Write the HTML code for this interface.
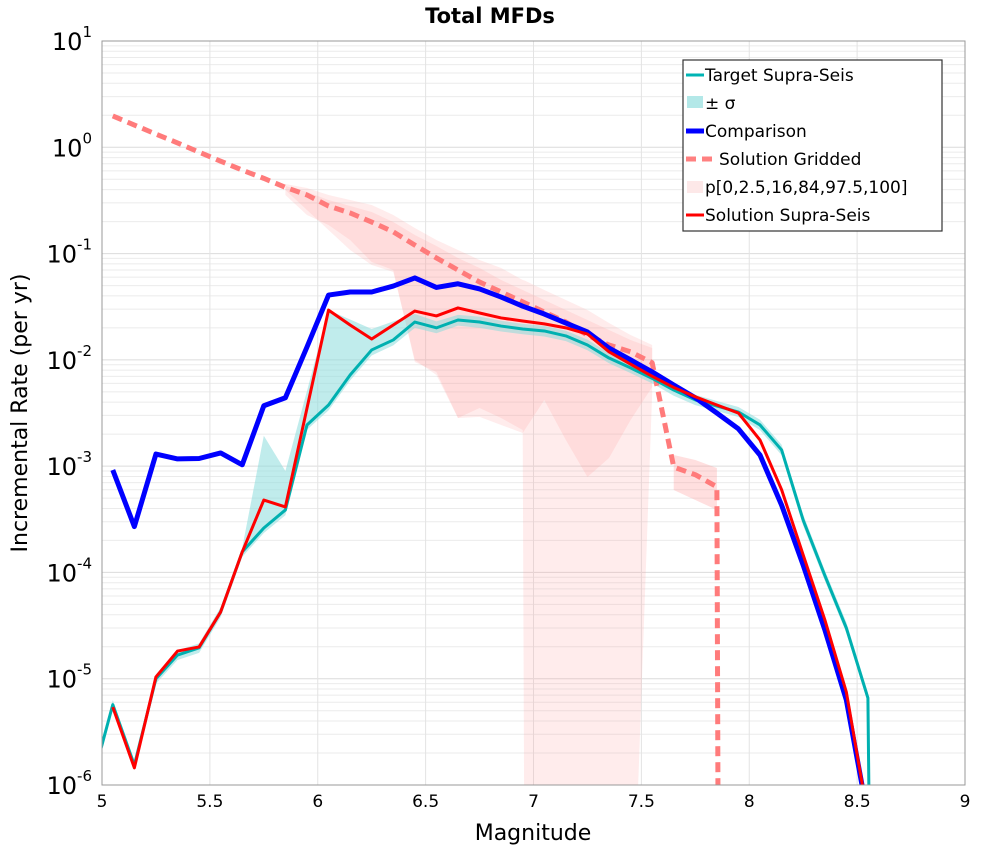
<!DOCTYPE html>
<html><head><meta charset="utf-8"><style>
html,body{margin:0;padding:0;background:#fff;overflow:hidden;}
svg{display:block;font-family:"DejaVu Sans","Liberation Sans",sans-serif;}
</style></head><body>
<svg id="chart" width="1000" height="850" xmlns="http://www.w3.org/2000/svg">
<defs><clipPath id="clip"><rect x="102" y="41" width="863" height="744"/></clipPath></defs>
<rect x="0" y="0" width="1000" height="850" fill="#fff"/>
<text x="490" y="23" text-anchor="middle" font-size="21" font-weight="bold">Total MFDs</text>
<g id="grid"></g>
<g id="plot" clip-path="url(#clip)"></g>
<rect x="102" y="41" width="863" height="744" fill="none" stroke="#999" stroke-width="1"/>
<g id="axes"></g>
<text x="533" y="840" text-anchor="middle" font-size="22">Magnitude</text>
<text transform="translate(27,413) rotate(-90)" text-anchor="middle" font-size="22">Incremental Rate (per yr)</text>
<g id="legend">
<rect x="683" y="60" width="259" height="171" fill="#fff" stroke="#333" stroke-width="1.2"/>
<g><line x1="686" y1="75" x2="704" y2="75" stroke="#00b4b4" stroke-width="3"/><text x="705" y="81" font-size="17">Target Supra-Seis</text></g>
<g><rect x="687" y="96" width="16" height="12" fill="#b3e8e8"/><text x="705" y="109" font-size="17">± σ</text></g>
<g><line x1="686" y1="131" x2="704" y2="131" stroke="#0000ff" stroke-width="5"/><text x="705" y="137" font-size="17">Comparison</text></g>
<g><line x1="686" y1="159" x2="718" y2="159" stroke="#ff8080" stroke-width="5" stroke-dasharray="10,6"/><text x="719" y="165" font-size="17">Solution Gridded</text></g>
<g><rect x="687" y="181" width="16" height="12" fill="#fde8e8"/><text x="705" y="193" font-size="17">p[0,2.5,16,84,97.5,100]</text></g>
<g><line x1="686" y1="215" x2="704" y2="215" stroke="#ff0000" stroke-width="3"/><text x="705" y="221" font-size="17">Solution Supra-Seis</text></g>
</g>
</svg>
<script>
// ---- data ----
const mags = [5.05,5.15,5.25,5.35,5.45,5.55,5.65,5.75,5.85,5.95,6.05,6.15,6.25,6.35,6.45,6.55,6.65,6.75,6.85,6.95,7.05,7.15,7.25,7.35,7.45,7.55,7.65,7.75,7.85,7.95,8.05,8.15,8.25,8.35,8.45,8.55];
const targetMags = [4.95].concat(mags);
const targetRates = [1e-6,5.7e-6,1.54e-6,1.0e-5,1.67e-5,1.95e-5,4.25e-5,1.56e-4,2.62e-4,3.87e-4,2.44e-3,3.76e-3,7.2e-3,1.24e-2,1.54e-2,2.27e-2,2.0e-2,2.37e-2,2.27e-2,2.08e-2,1.95e-2,1.87e-2,1.68e-2,1.38e-2,1.04e-2,8.4e-3,6.7e-3,5.2e-3,4.2e-3,3.68e-3,3.23e-3,2.44e-3,1.42e-3,3.1e-4,9.4e-5,3.0e-5,6.6e-6];
const sigmaHi = [1.1e-6,6.3e-6,1.7e-6,1.1e-5,1.85e-5,2.15e-5,4.7e-5,1.7e-4,1.93e-3,9e-4,5.1e-3,2.94e-2,2.4e-2,1.95e-2,2.3e-2,2.7e-2,2.3e-2,2.65e-2,2.55e-2,2.33e-2,2.18e-2,2.09e-2,1.88e-2,1.55e-2,1.16e-2,9.4e-3,7.5e-3,5.8e-3,4.7e-3,4.1e-3,3.6e-3,2.73e-3,1.59e-3,3.5e-4,1.05e-4,3.4e-5,7.4e-6];
const sigmaLo = [9e-7,5.1e-6,1.38e-6,9e-6,1.5e-5,1.75e-5,3.8e-5,1.4e-4,2.35e-4,3.45e-4,2.2e-3,3.35e-3,6.4e-3,1.1e-2,1.37e-2,2.0e-2,1.78e-2,2.1e-2,2.0e-2,1.85e-2,1.74e-2,1.66e-2,1.5e-2,1.23e-2,9.3e-3,7.5e-3,6.0e-3,4.6e-3,3.75e-3,3.3e-3,2.9e-3,2.18e-3,1.27e-3,2.75e-4,8.4e-5,2.7e-5,5.9e-6];
const comparisonRates = [9.2e-4,2.7e-4,1.3e-3,1.17e-3,1.18e-3,1.33e-3,1.03e-3,3.7e-3,4.4e-3,1.32e-2,4.07e-2,4.35e-2,4.35e-2,4.95e-2,5.9e-2,4.8e-2,5.2e-2,4.65e-2,3.9e-2,3.2e-2,2.7e-2,2.22e-2,1.83e-2,1.29e-2,1.0e-2,7.7e-3,5.8e-3,4.4e-3,3.16e-3,2.24e-3,1.27e-3,4.3e-4,1.17e-4,2.9e-5,6.3e-6,5e-7];
const solutionRates = [5.4e-6,1.45e-6,1.04e-5,1.82e-5,1.99e-5,4.25e-5,1.56e-4,4.8e-4,4.13e-4,3.5e-3,2.94e-2,2.13e-2,1.57e-2,2.13e-2,2.88e-2,2.59e-2,3.08e-2,2.76e-2,2.48e-2,2.32e-2,2.18e-2,2.0e-2,1.75e-2,1.19e-2,9.1e-3,7.0e-3,5.5e-3,4.5e-3,3.76e-3,3.16e-3,1.76e-3,6.0e-4,1.46e-4,3.6e-5,7.5e-6,5e-7];
const griddedMags = [5.05,5.15,5.25,5.35,5.45,5.55,5.65,5.75,5.85,5.95,6.05,6.15,6.25,6.35,6.45,6.55,6.65,6.75,6.85,6.95,7.05,7.15,7.25,7.35,7.45,7.55,7.65,7.75,7.85,7.86];
const griddedRates = [1.97,1.62,1.33,1.10,0.90,0.74,0.61,0.51,0.42,0.356,0.28,0.241,0.198,0.160,0.120,0.091,0.070,0.054,0.0435,0.0351,0.0282,0.0227,0.0171,0.0138,0.0119,0.0094,9.8e-4,8.3e-4,6.4e-4,1e-9];
// percentile bands (log10 of rate)
const outerMags = [5.85,5.95,6.05,6.15,6.25,6.35,6.45,6.55,6.65,6.75,6.85,6.95,6.96,7.05,7.15,7.25,7.35,7.45,7.55];
const outerHiLog = [-0.345,-0.383,-0.449,-0.496,-0.543,-0.637,-0.759,-0.872,-0.966,-1.060,-1.136,-1.249,-1.255,-1.343,-1.437,-1.531,-1.653,-1.766,-1.860];
const outerLoLog = [-0.402,-0.590,-0.778,-0.966,-1.107,-1.173,-2.001,-2.142,-2.547,-2.453,-2.547,-2.660,-8,-8,-8,-8,-8,-8,-2.312];
const pctMags = [5.85,5.95,6.05,6.15,6.25,6.35,6.45,6.55,6.65,6.75,6.85,6.95,7.05,7.15,7.25,7.35,7.45,7.55];
const midHiLog = [-0.364,-0.421,-0.496,-0.552,-0.609,-0.703,-0.825,-0.929,-1.042,-1.136,-1.249,-1.343,-1.437,-1.531,-1.625,-1.719,-1.813,-1.888];
const midLoLog = [-0.449,-0.637,-0.731,-0.872,-1.079,-1.154,-2.020,-2.114,-2.547,-2.537,-2.613,-2.688,-2.378,-2.754,-3.102,-2.923,-2.566,-2.255];
const tailMags = [7.65,7.75,7.85];
const tailHiLog = [-2.895,-2.942,-3.017];
const tailLoLog = [-3.224,-3.318,-3.412];
const xTicks = [5,5.5,6,6.5,7,7.5,8,8.5,9];
const xTickLabels = ["5","5.5","6","6.5","7","7.5","8","8.5","9"];
const yDecades = [1,0,-1,-2,-3,-4,-5,-6];

// ---- axes ----
const X0=102,X1=965,Y0=41,Y1=785;
const xs = m => X0 + (m-5)/(9-5)*(X1-X0);
const ylog = l => Y0 + (1-l)/(1-(-6))*(Y1-Y0);
const ys = v => ylog(Math.log10(Math.max(v,1e-9)));
const NS="http://www.w3.org/2000/svg";
function mk(tag, attrs, parent){const e=document.createElementNS(NS,tag);for(const k in attrs)e.setAttribute(k,attrs[k]);parent.appendChild(e);return e;}
const grid=document.getElementById('grid'), plot=document.getElementById('plot'), axes=document.getElementById('axes');

for(let d=-6; d<1; d++){ for(let k=2;k<=9;k++){ const y=ylog(d+Math.log10(k));
  const l=mk('line',{x1:X0,x2:X1,y1:y,y2:y,stroke:'#ebebeb','stroke-width':1},grid);
  
   } }
yDecades.forEach(d=>{const y=ylog(d);
  const l=mk('line',{x1:X0,x2:X1,y1:y,y2:y,stroke:'#dcdcdc','stroke-width':1},grid);
  
  
  const t=mk('text',{x:X0-10,y:y+9,'text-anchor':'end','font-size':24},axes);
  
  
  t.textContent='10';
  const s=mk('tspan',{dy:-13,'font-size':15},t); s.textContent=String(d);
});
xTicks.forEach((m,i)=>{const x=xs(m);
  const l=mk('line',{x1:x,x2:x,y1:Y0,y2:Y1,stroke:'#e3e3e3','stroke-width':1},grid);
  
  
  const t=mk('text',{x:x,y:807,'text-anchor':'middle','font-size':17},axes);
  
  
  t.textContent=xTickLabels[i];
});

function band(mx, hi, lo, fill, isLog, name){
  const f = isLog ? ylog : ys;
  let p = mx.map((m,i)=>xs(m)+','+f(hi[i]));
  p = p.concat(mx.map((m,i)=>xs(m)+','+f(lo[i])).reverse());
  const e=mk('polygon',{points:p.join(' '),fill:fill},plot);
  
  
}
function line(mx, vals, stroke, w, name, dash){
  const a={points:mx.map((m,i)=>xs(m)+','+ys(vals[i])).join(' '),fill:'none',stroke:stroke,'stroke-width':w,'stroke-linejoin':'round'};
  if(dash) a['stroke-dasharray']=dash;
  const e=mk('polyline',a,plot);
  
  
}
band(outerMags, outerHiLog, outerLoLog, 'rgba(255,150,150,0.18)', true, 'percentile-band-outer');
band(pctMags, midHiLog, midLoLog, 'rgba(255,150,150,0.18)', true, 'percentile-band-inner');
band(tailMags, tailHiLog, tailLoLog, 'rgba(255,150,150,0.3)', true, 'percentile-band-tail');
band(targetMags, sigmaHi, sigmaLo, 'rgba(140,220,220,0.55)', false, 'sigma-band');
line(griddedMags, griddedRates, '#ff7b7b', 5, 'solution-gridded-line', '10,6');
line(targetMags.concat([8.57]), targetRates.concat([1e-9]), '#00b0b0', 3, 'target-supra-seis-line');
line(mags, comparisonRates, '#0000ff', 5, 'comparison-line');
line(mags, solutionRates, '#ff0000', 3, 'solution-supra-seis-line');
</script>
</body></html>
